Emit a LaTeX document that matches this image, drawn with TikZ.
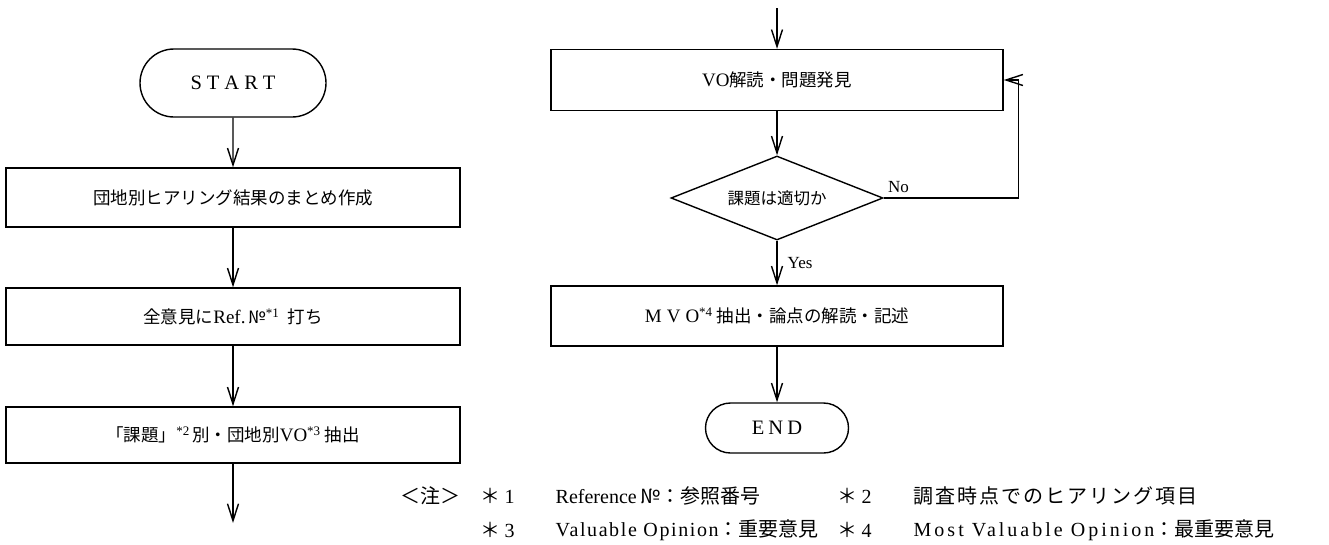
\documentclass[tikz,border=0pt]{standalone}
\usepackage{fontspec}
\setmainfont{Liberation Serif}
\newfontfamily\cjk{Noto Sans CJK JP}
\newcommand{\supmark}[1]{\raisebox{0.75ex}{\fontsize{13}{13}\selectfont *#1}}
\newcommand{\latn}[1]{{\fontsize{19}{20}\selectfont #1}}
\usetikzlibrary{arrows.meta,shapes.geometric,shapes.misc}
\begin{document}
\begin{tikzpicture}[x=1pt,y=-1pt,line width=1.4pt,
  proc/.style={draw,rectangle,inner sep=0pt,font=\fontsize{17.5}{20}\selectfont},
  term/.style={draw,rounded rectangle,inner sep=0pt,font=\fontsize{20.5}{22}\selectfont},
  decide/.style={draw,diamond,aspect=2.5,inner sep=0pt,font=\fontsize{16.5}{18}\selectfont},
  flow/.style={-{Straight Barb[length=17pt,width=11pt]}},
  lab/.style={inner sep=0pt,font=\fontsize{17}{20}\selectfont},
  note/.style={inner sep=0pt,font=\fontsize{20}{24}\selectfont}]
\useasboundingbox (0,0) rectangle (1329,544);
% left column
\node[term,minimum width=186pt,minimum height=68pt] (start) at (233,83)
  {S\hspace{5pt}T\hspace{5pt}A\hspace{5pt}R\hspace{5pt}T};
\node[proc,minimum width=454pt,minimum height=59pt] (b1) at (233,197.5)
  {\cjk 団地別ヒアリング結果のまとめ作成};
\node[proc,minimum width=454pt,minimum height=57pt] (b2) at (233,316.5)
  {{\cjk 全意見に}\latn{Ref.}\,{\cjk №}\supmark{1}\ \ {\cjk 打ち}};
\node[proc,minimum width=454pt,minimum height=56pt] (b3) at (233,435)
  {{\cjk 「課題」}\supmark{2}\,{\cjk 別・団地別}\latn{VO}\supmark{3}\ {\cjk 抽出}};
\coordinate (lout) at (233,523);
% right column
\coordinate (rin) at (777,8);
\node[proc,minimum width=452pt,minimum height=61pt] (vo) at (777,80)
  {\latn{VO}{\cjk 解読・問題発見}};
\node[decide,minimum width=212pt,minimum height=84pt] (d) at (777,198)
  {\cjk 課題は適切か};
\node[proc,minimum width=452pt,minimum height=60pt] (mvo) at (777,316)
  {\latn{M\hspace{5pt}V\hspace{5pt}O}\supmark{4}\ {\cjk 抽出・論点の解読・記述}};
\node[term,minimum width=143pt,minimum height=50pt] (end) at (777,428)
  {E\hspace{4pt}N\hspace{4pt}D};
% connectors
\draw[flow] (start) -- (b1);
\draw[flow] (b1) -- (b2);
\draw[flow] (b2) -- (b3);
\draw[flow] (b3) -- (lout);
\draw[flow] (rin) -- (vo);
\draw[flow] (vo) -- (d);
\draw[flow] (d) -- node[lab,right,xshift=10pt] (yes) {Yes} (mvo);
\draw[flow] (mvo) -- (end);
\draw[flow] (d.east) -- node[lab,pos=0.11,above,yshift=5pt] (no) {No} ++(135,0) |- (vo.east);
% notes
\node[note,anchor=west] (chu) at (400,496) {\cjk ＜注＞};
\node[note,anchor=west] (s1) at (480,496) {{\cjk ＊}\hspace{4pt}1};
\node[note,anchor=west] (t1) at (555,496) {Reference\,{\cjk №：参照番号}};
\node[note,anchor=west] (s2) at (837,496) {{\cjk ＊}\hspace{4pt}2};
\node[note,anchor=west] (t2) at (913,496) {\cjk\addfontfeature{LetterSpace=10}調査時点でのヒアリング項目};
\node[note,anchor=west] (s3) at (480,530) {{\cjk ＊}\hspace{4pt}3};
\node[note,anchor=west] (t3) at (555,530) {{\addfontfeature{LetterSpace=8}Valuable Opinion}{\cjk ：重要意見}};
\node[note,anchor=west] (s4) at (837,530) {{\cjk ＊}\hspace{4pt}4};
\node[note,anchor=west] (t4) at (913,530) {{\addfontfeature{LetterSpace=15}Most Valuable Opinion}{\cjk ：最重要意見}};
\end{tikzpicture}
\end{document}
